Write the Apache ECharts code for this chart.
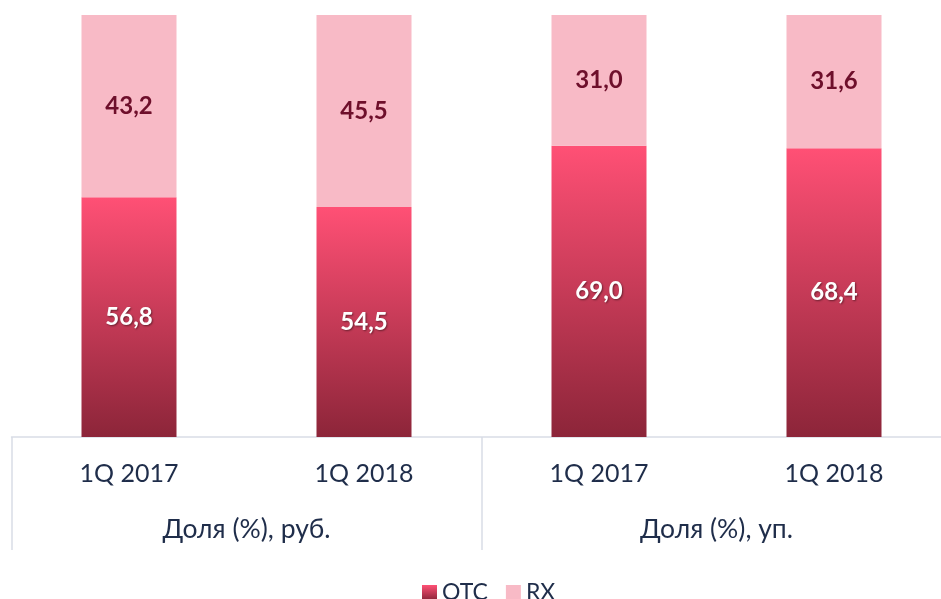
<!DOCTYPE html>
<html><head><meta charset="utf-8">
<script src="https://cdn.jsdelivr.net/npm/echarts@6/dist/echarts.min.js"></script>
<style>html,body{margin:0;padding:0;background:#fff}#c{width:941px;height:599px}</style>
</head><body><div id="c"></div>
<script>
const categories = ['1Q 2017', '1Q 2018', '1Q 2017', '1Q 2018'];
const groups = ['Доля (%), руб.', 'Доля (%), уп.'];
const otc = [56.8, 54.5, 69.0, 68.4];
const rx = [43.2, 45.5, 31.0, 31.6];
const seriesNames = ['OTC', 'RX'];

const FONT = 'Lato, "Open Sans", sans-serif';
const TXT = '#1F2D4A';
const LINE = '#D9DDE6';
const fmt = p => p.value.toFixed(1).replace('.', ',');
const otcColor = new echarts.graphic.LinearGradient(0, 0, 0, 1, [
  {offset: 0, color: '#FF5075'}, {offset: 1, color: '#8C2539'}
]);

const chart = echarts.init(document.getElementById('c'), null, {renderer: 'canvas'});
chart.setOption({
  animation: false,
  textStyle: {fontFamily: FONT},
  grid: {left: 11.5, width: 940, top: 15, height: 422, containLabel: false, outerBoundsMode: 'none'},
  legend: {
    data: seriesNames, left: 417, top: 576, icon: 'rect', itemWidth: 15, itemHeight: 15, itemGap: 18,
    textStyle: {fontSize: 23, color: TXT, fontFamily: FONT}
  },
  xAxis: [{
    type: 'category', data: categories,
    axisLine: {lineStyle: {color: LINE, width: 1.5}},
    axisTick: {show: false},
    axisLabel: {fontSize: 25, color: TXT, margin: 24, fontFamily: FONT}
  }, {
    type: 'category', data: groups, position: 'bottom', offset: 113,
    axisLine: {show: false},
    axisTick: {show: true, inside: true, length: 113, lineStyle: {color: LINE, width: 1.5}},
    axisLabel: {inside: true, fontSize: 26.5, color: TXT, margin: 7, fontFamily: FONT}
  }],
  yAxis: {type: 'value', min: 0, max: 100, show: false},
  series: [{
    name: 'OTC', type: 'bar', stack: 's', barWidth: 95, data: otc, xAxisIndex: 0,
    itemStyle: {color: otcColor},
    label: {show: true, position: 'inside', formatter: fmt, fontSize: 24, fontWeight: 'bold',
      color: '#fff', fontFamily: FONT, textShadowColor: 'rgba(0,0,0,0.45)', textShadowBlur: 2,
      textShadowOffsetX: 1, textShadowOffsetY: 1}
  }, {
    name: 'RX', type: 'bar', stack: 's', barWidth: 95, data: rx, xAxisIndex: 0,
    itemStyle: {color: '#F8BAC6'},
    label: {show: true, position: 'inside', formatter: fmt, fontSize: 24, fontWeight: 'bold',
      color: '#6E0F2B', fontFamily: FONT}
  }]
});
</script></body></html>
